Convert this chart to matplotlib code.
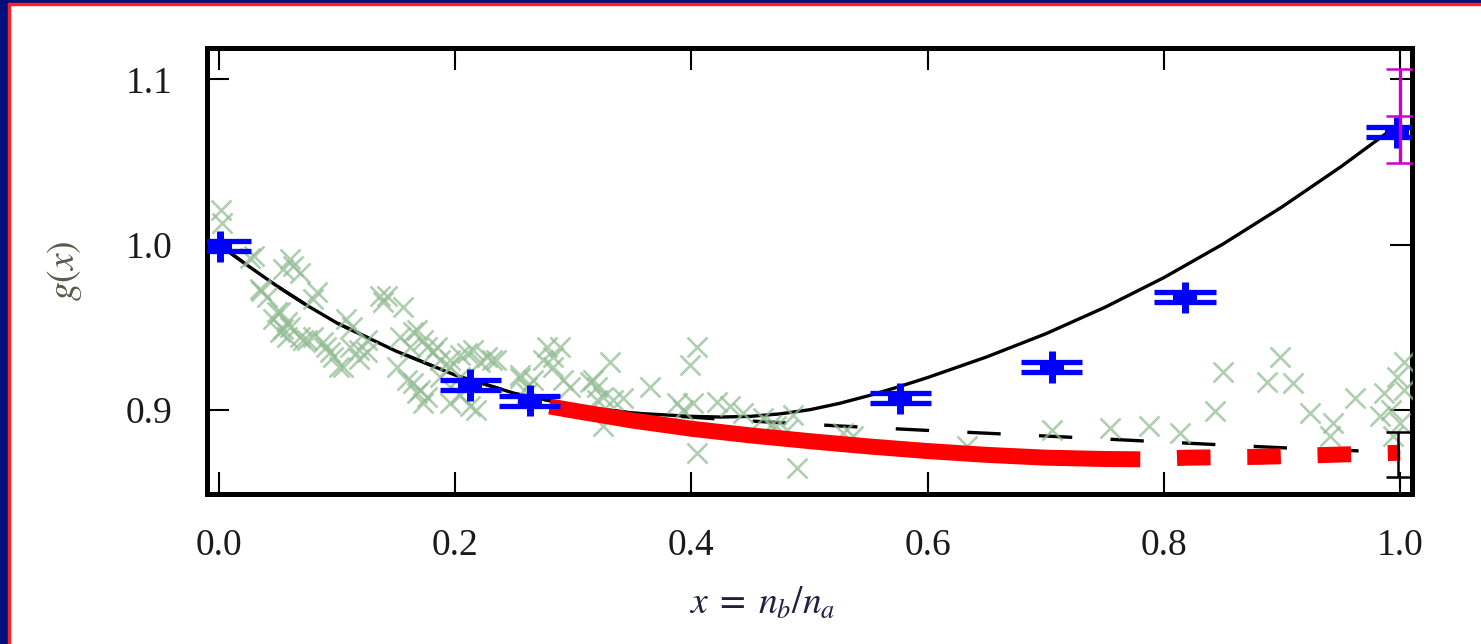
import matplotlib
matplotlib.use('Agg')
import matplotlib.pyplot as plt
import numpy as np
from matplotlib.patches import Rectangle

plt.rcParams['font.family'] = ['Liberation Serif', 'DejaVu Serif']
plt.rcParams['mathtext.fontset'] = 'stix'

# fitted curves
fit_x = [0.0, 0.025, 0.05, 0.075, 0.10, 0.15, 0.20, 0.25, 0.30, 0.35, 0.40, 0.425, 0.45,
         0.475, 0.50, 0.525, 0.55, 0.575, 0.60, 0.65, 0.70, 0.75, 0.80, 0.85, 0.90, 0.95, 1.0]
fit_solid = [1.000, 0.9870, 0.9745, 0.9630, 0.9525, 0.9355, 0.9210, 0.9100, 0.9025, 0.8980,
             0.8960, 0.8956, 0.8960, 0.8975, 0.9000, 0.9038, 0.9085, 0.9138, 0.9195, 0.9320,
             0.9460, 0.9620, 0.9800, 1.0003, 1.0228, 1.0472, 1.0735]
fit_dashed = [1.000, 0.9870, 0.9745, 0.9630, 0.9525, 0.9355, 0.9210, 0.9100, 0.9025, 0.8980,
              0.8955, 0.8943, 0.8932, 0.8922, 0.8912, 0.8902, 0.8893, 0.8884, 0.8875, 0.8858,
              0.8841, 0.8823, 0.8805, 0.8787, 0.8770, 0.8755, 0.8742]

# thick red curve: solid part then dashed tail
red_x = [0.28, 0.30, 0.35, 0.40, 0.45, 0.50, 0.55, 0.60, 0.65, 0.70, 0.75, 0.78]
red_y = [0.9020, 0.8995, 0.8935, 0.8885, 0.8845, 0.8810, 0.8778, 0.8750, 0.8727, 0.8710, 0.8702, 0.8700]
red_tail_x = [0.78, 0.82, 0.88, 0.94, 1.0]
red_tail_y = [0.8700, 0.8710, 0.8715, 0.8727, 0.8740]

# scattered samples (green crosses)
scat_x = [0.002, 0.003, 0.030, 0.060, 0.063, 0.054, 0.069, 0.036, 0.083, 0.080,
          0.052, 0.046, 0.058, 0.054, 0.075, 0.069, 0.091, 0.097, 0.102, 0.108,
          0.113, 0.119, 0.125, 0.136, 0.142, 0.139, 0.156, 0.153, 0.164, 0.176,
          0.181, 0.151, 0.159, 0.168, 0.176, 0.170, 0.187, 0.185, 0.196, 0.204,
          0.215, 0.227, 0.231, 0.221, 0.218, 0.196, 0.204, 0.255, 0.261, 0.278,
          0.289, 0.283, 0.283, 0.291, 0.297, 0.314, 0.320, 0.331, 0.325, 0.342,
          0.325, 0.365, 0.405, 0.399, 0.388, 0.401, 0.393, 0.422, 0.433, 0.444,
          0.461, 0.467, 0.405, 0.472, 0.481, 0.486, 0.489, 0.528, 0.537, 0.633,
          0.705, 0.754, 0.787, 0.814, 0.843, 0.850, 0.887, 0.898, 0.909, 0.924,
          0.943, 0.941, 0.962, 0.986, 0.997, 1.003, 0.983, 0.992, 1.000, 1.003,
          0.994, 0.255, 0.266, 0.317, 0.334, 0.320,
          0.035, 0.041, 0.049, 0.060, 0.052, 0.058, 0.071, 0.080, 0.088, 0.094,
          0.105, 0.111, 0.119, 0.125, 0.168, 0.173, 0.162, 0.164, 0.173, 0.187,
          0.196, 0.204, 0.210, 0.235, 0.213, 0.261, 0.274, 0.026]
scat_y = [1.021, 1.013, 0.993, 0.991, 0.987, 0.985, 0.983, 0.972, 0.971, 0.967,
          0.959, 0.955, 0.953, 0.949, 0.942, 0.944, 0.938, 0.932, 0.926, 0.955,
          0.950, 0.936, 0.935, 0.969, 0.969, 0.965, 0.962, 0.944, 0.947, 0.938,
          0.935, 0.926, 0.918, 0.910, 0.908, 0.912, 0.920, 0.938, 0.930, 0.933,
          0.936, 0.932, 0.930, 0.929, 0.900, 0.904, 0.909, 0.919, 0.914, 0.938,
          0.938, 0.932, 0.926, 0.918, 0.914, 0.917, 0.914, 0.929, 0.908, 0.907,
          0.890, 0.914, 0.938, 0.927, 0.904, 0.904, 0.900, 0.905, 0.902, 0.898,
          0.895, 0.891, 0.874, 0.890, 0.888, 0.897, 0.865, 0.886, 0.884, 0.878,
          0.888, 0.889, 0.890, 0.886, 0.899, 0.923, 0.917, 0.932, 0.916, 0.898,
          0.892, 0.884, 0.907, 0.910, 0.920, 0.929, 0.896, 0.900, 0.892, 0.912,
          0.884, 0.921, 0.918, 0.918, 0.906, 0.906,
          0.973, 0.968, 0.959, 0.950, 0.947, 0.944, 0.942, 0.944, 0.941, 0.935,
          0.926, 0.938, 0.931, 0.942, 0.948, 0.942, 0.938, 0.916, 0.904, 0.930,
          0.926, 0.920, 0.9345, 0.930, 0.902, 0.910, 0.930, 0.992]

# blue simulation points
blue_x = [0.001, 0.213, 0.263, 0.577, 0.705, 0.818, 0.997]
blue_y = [0.999, 0.915, 0.9055, 0.907, 0.926, 0.968, 1.068]
blue_xerr = 0.026
blue_yerr = 0.0095
blue_split = 0.003

# single points at x = 1
mag_x, mag_y, mag_err = 1.0, 1.078, 0.0285
blk_x, blk_y, blk_err = 0.998, 0.873, 0.0136

fig = plt.figure(figsize=(14.81, 6.44), dpi=100)
ax = fig.add_axes([0.1398, 0.2329, 0.8136, 0.6926])

ax.plot(fit_x, fit_solid, color='black', lw=2.4, zorder=2)
ax.plot(fit_x, fit_dashed, color='black', lw=2.4, dashes=(10, 11.5), zorder=2)

ax.plot(scat_x, scat_y, linestyle='none', marker='x', markersize=14,
        markeredgewidth=1.9, color='#92bc92', alpha=0.72, zorder=3)

ax.plot(red_x, red_y, color='#ff0000', lw=11.5, solid_capstyle='butt', zorder=4)
ax.plot(red_tail_x, red_tail_y, color='#ff0000', lw=11.5,
        linestyle=(2.1, (2.1, 2.3)), zorder=4)

bx = np.array(blue_x)
by = np.array(blue_y)
ax.errorbar(bx, by, yerr=blue_yerr, fmt='none', ecolor='#0000ff', elinewidth=5, zorder=5)
ax.hlines(np.concatenate([by - blue_split, by + blue_split]),
          np.concatenate([bx - blue_xerr, bx - blue_xerr]),
          np.concatenate([bx + blue_xerr, bx + blue_xerr]),
          color='#0000ff', lw=3.8, zorder=5)
box = [(-1, -0.42), (1, -0.42), (1, 0.42), (-1, 0.42), (-1, -0.42)]
ax.plot(bx, by, linestyle='none', marker=box, markersize=17, color='#0000ff',
        markeredgewidth=0, zorder=5)

ax.errorbar([mag_x], [mag_y], yerr=mag_err, fmt='_', color='#cc00cc', ecolor='#cc00cc',
            markersize=20, markeredgewidth=1.8, elinewidth=2.4, capsize=10, capthick=1.8, zorder=6)
ax.errorbar([blk_x], [blk_y], yerr=blk_err, fmt='none', ecolor='black',
            elinewidth=1.8, capsize=9, capthick=1.8, zorder=6)

ax.set_xlim(-0.010, 1.010)
ax.set_ylim(0.849, 1.119)
ax.set_xticks([0.0, 0.2, 0.4, 0.6, 0.8, 1.0])
ax.set_yticks([0.9, 1.0, 1.1])
ax.set_xticklabels(['0.0', '0.2', '0.4', '0.6', '0.8', '1.0'])
ax.set_yticklabels(['0.9', '1.0', '1.1'])
ax.tick_params(direction='in', length=16, width=1.5, top=True, right=True,
               labelsize=27, colors='black', labelcolor='#1a1a1a')
ax.tick_params(axis='x', pad=25)
ax.tick_params(axis='y', pad=25)
for sp in ax.spines.values():
    sp.set_linewidth(3.6)

ax.set_xlabel(r'$x\;=\;n_b/n_a$', fontsize=27, color='#202040')
ax.xaxis.set_label_coords(0.461, -0.205)
ax.set_ylabel('$g(x)$', fontsize=27, color='#5a5a48', labelpad=30)

# page frame strips
W, H = 1481, 644
fig.patches.append(Rectangle((0, 0), 8 / W, 1, transform=fig.transFigure,
                             color='#00107a', zorder=10))
fig.patches.append(Rectangle((0, 1 - 3 / H), 1, 3 / H, transform=fig.transFigure,
                             color='#00107a', zorder=10))
fig.patches.append(Rectangle((8 / W, 0), 2 / W, 1 - 3 / H, transform=fig.transFigure,
                             color='#ff2020', zorder=10))
fig.patches.append(Rectangle((8 / W, 1 - 5 / H), 1, 2 / H, transform=fig.transFigure,
                             color='#ff2020', zorder=10))

fig.savefig('out.png', dpi=100)
